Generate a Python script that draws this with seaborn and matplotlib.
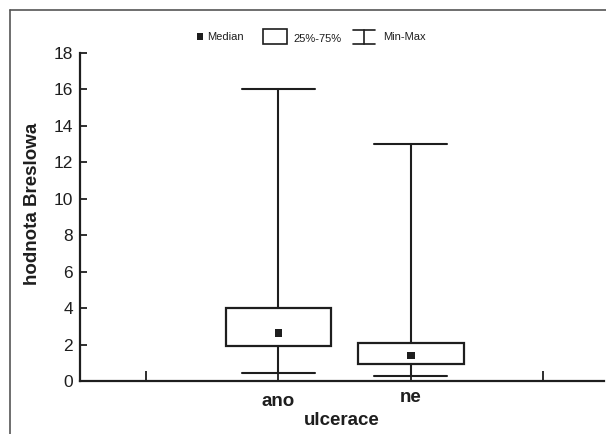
import numpy as np
import pandas as pd
import matplotlib
matplotlib.use("Agg")
import matplotlib.pyplot as plt
from matplotlib.lines import Line2D
from matplotlib.patches import Rectangle
from matplotlib.transforms import ScaledTranslation
import seaborn as sns

# ---- data ----
categories = ["ano", "ne"]
minimum = [0.45, 0.25]
q1 = [1.9, 0.95]
median = [2.65, 1.4]
q3 = [4.0, 2.1]
maximum = [16.0, 13.0]
y_ticks = [0, 2, 4, 6, 8, 10, 12, 14, 16, 18]
x_label = "ulcerace"
y_label = "hodnota Breslowa"
legend_labels = ["Median", "25%-75%", "Min-Max"]

sns.set_theme(style="ticks")
plt.rcParams['font.family'] = ['Liberation Sans', 'DejaVu Sans']

W, H = 606, 434
def fx(px):
    return px / W
def fy(py):
    return 1 - py / H

INK = "#1e1e1e"
fig = plt.figure(figsize=(W / 100, H / 100), dpi=100)
fig.patch.set_facecolor("white")
ax = fig.add_axes([fx(80), fy(381), fx(604) - fx(80), fy(53) - fy(381)])
ax.set_facecolor("white")

positions = list(range(len(categories)))
stats = [dict(label=c, whislo=lo, q1=a, med=m, q3=b, whishi=hi, fliers=[])
         for c, lo, a, m, b, hi in zip(categories, minimum, q1, median, q3, maximum)]
ax.bxp(stats, positions=positions, widths=0.8, capwidths=0.55, showfliers=False,
       patch_artist=True,
       boxprops=dict(facecolor="white", edgecolor=INK, linewidth=1.6),
       whiskerprops=dict(color=INK, linewidth=1.5),
       capprops=dict(color=INK, linewidth=1.5),
       medianprops=dict(visible=False))

df = pd.DataFrame({"pos": positions, "median": median})
sns.scatterplot(data=df, x="pos", y="median", marker="s", s=30, color=INK,
                edgecolor="none", ax=ax, zorder=5, legend=False)

ax.set_xlim(-1.5, 2.46)
ax.set_ylim(0, 18)
ax.set_yticks(y_ticks)
ax.set_yticklabels([str(t) for t in y_ticks], fontsize=12.5, color=INK)
ax.set_xticks([-1, 0, 1, 2])
ax.set_xticklabels(["", categories[0], categories[1], ""], fontsize=13.5,
                   fontweight="bold", color=INK)
ax.tick_params(axis="y", direction="in", length=5, width=1.3, color=INK, pad=5)
ax.tick_params(axis="x", direction="in", length=7, width=1.3, color=INK, pad=9)
# the "ne" label sits a few pixels higher in the reference
ne_lab = ax.get_xticklabels()[2]
ne_lab.set_transform(ne_lab.get_transform() + ScaledTranslation(0, 3 / 72, fig.dpi_scale_trans))
ax.set_xlabel(x_label, fontsize=13.5, fontweight="bold", color=INK, labelpad=1)
ax.set_ylabel(y_label, fontsize=13.5, fontweight="bold", color=INK)
ax.yaxis.set_label_coords((41 - 80) / 524, (381 - 204) / 328)
for s in ["top", "right"]:
    ax.spines[s].set_visible(False)
for s in ["left", "bottom"]:
    ax.spines[s].set_color(INK)
    ax.spines[s].set_linewidth(1.6)
ax.spines["left"].set_bounds(0, 18)

# ---- outer frame (top and left edges) ----
FRAME = "#555555"
fig.add_artist(Line2D([fx(10), 1.0], [fy(10), fy(10)], transform=fig.transFigure,
                      color=FRAME, lw=1.2))
fig.add_artist(Line2D([fx(10), fx(10)], [0.0, fy(10)], transform=fig.transFigure,
                      color=FRAME, lw=1.2))

# ---- legend ----
tr = fig.transFigure
fig.add_artist(Rectangle((fx(197), fy(40)), fx(203) - fx(197), fy(33) - fy(40),
                         transform=tr, facecolor=INK, edgecolor="none"))
fig.text(fx(207), fy(37.5), legend_labels[0], fontsize=8, color=INK, va="center", ha="left")
fig.add_artist(Rectangle((fx(263), fy(44)), fx(287) - fx(263), fy(29.5) - fy(44),
                         transform=tr, facecolor="white", edgecolor=INK, lw=1.2))
fig.text(fx(293), fy(38.5), legend_labels[1], fontsize=8, color=INK, va="center", ha="left")
fig.add_artist(Line2D([fx(353), fx(375)], [fy(30), fy(30)], transform=tr, color=INK, lw=1.2))
fig.add_artist(Line2D([fx(353), fx(375)], [fy(43.5), fy(43.5)], transform=tr, color=INK, lw=1.2))
fig.add_artist(Line2D([fx(364), fx(364)], [fy(30), fy(43.5)], transform=tr, color=INK, lw=1.2))
fig.text(fx(383), fy(36.5), legend_labels[2], fontsize=8, color=INK, va="center", ha="left")

fig.savefig("out.png", dpi=100, facecolor="white")
